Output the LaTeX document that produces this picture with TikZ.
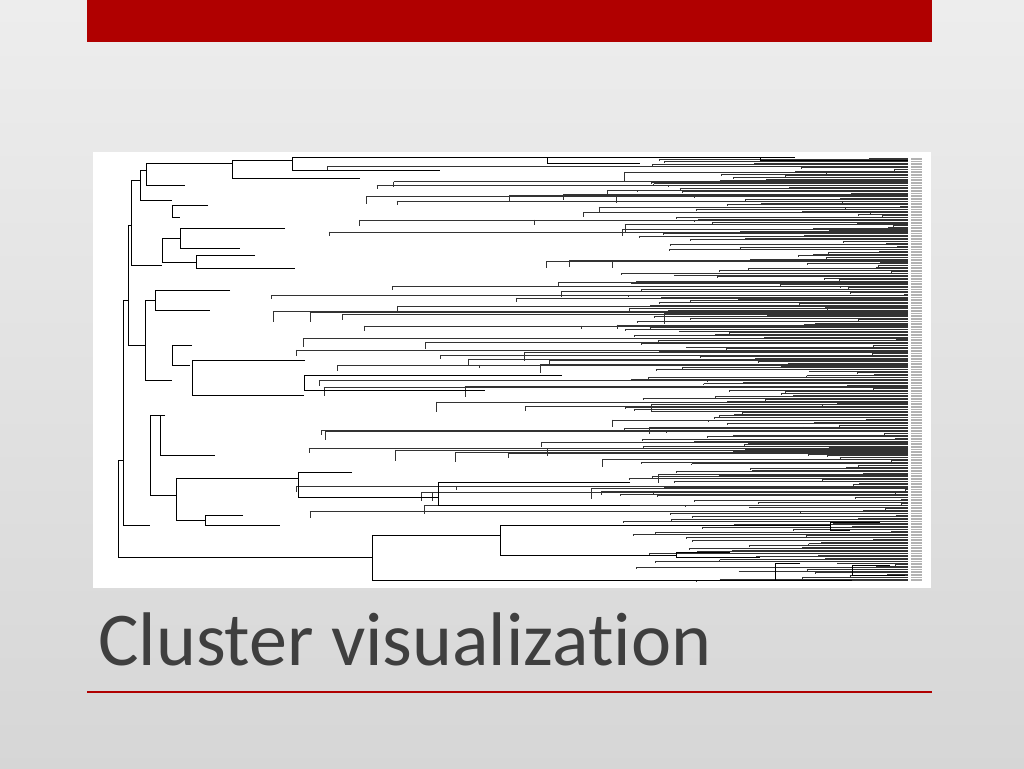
\documentclass[tikz,border=0pt]{standalone}
\usepackage{fontspec}
\setmainfont[Ligatures=NoCommon]{Carlito}
\usetikzlibrary{calc}
\definecolor{barred}{HTML}{B00000}
\definecolor{titlegray}{HTML}{3F3F3F}
\begin{document}
\begin{tikzpicture}[x=1pt,y=-1pt]
	\tikzset{br/.style={line width=0.5pt,black},leaf/.style={line width=0.25pt,black!80}}
	% slide background
	\shade[top color=white!93!black,bottom color=white!84!black] (0,0) rectangle (1024,768);
	\useasboundingbox (0,0) rectangle (1024,768);
	\fill[barred] (87,0) rectangle (932,42);% top bar
	\fill[white] (93,152) rectangle (931,588);% panel
	% dense leaves
	\pgfmathsetseed{7}
	\foreach \i in {0,...,264} {
		\pgfmathsetmacro\yy{158+1.6*\i}
		\pgfmathsetmacro\xx{620+rnd*285}
		\draw[leaf] (\xx,\yy) -- (908,\yy);
		\draw[leaf] (\xx,\yy) -- ++(0,1.6);
		\draw[gray!60,line width=0.3pt] (911,\yy) -- (922,\yy);% labels
	}
	% middle level
	\foreach \i in {0,...,70} {
		\pgfmathsetmacro\yy{160+rnd*360}
		\pgfmathsetmacro\xx{250+rnd*420}
		\pgfmathsetmacro\hh{3+rnd*8}
		\draw[leaf] (\xx,\yy) -- (908,\yy);
		\draw[leaf] (\xx,\yy) -- ++(0,\hh);
	}
	% main clades: x/top/bottom/top end/bottom end
	\foreach \x/\ya/\yb/\xa/\xb in {118/460/557/123/372, 123/300/525/128/150,
		128/225/345/131/145, 131/180/265/140/162, 140/170/200/146/172,
		146/163/185/232/185, 232/160/178/292/360, 292/157/170/547/440,
		172/205/217/208/180, 162/238/262/180/196, 180/228/248/285/240,
		196/255/268/255/295, 145/300/380/155/172, 155/290/310/230/210,
		172/345/365/192/190, 192/360/395/305/304, 304/375/390/562/485,
		150/415/495/160/176, 160/415/455/165/215, 176/478/520/298/205,
		298/472/497/352/438, 438/482/505/630/630, 205/515/525/243/280,
		372/535/580/500/775, 500/525/555/830/676, 775/563/580/800/852,
		547/157/163/760/640, 760/157/160/795/908, 830/522/530/880/850,
		676/552/557/730/760, 852/565/575/890/905} {
		\draw[br] (\xa,\ya) -- (\x,\ya) -- (\x,\yb) -- (\xb,\yb);
	}
	% title
	\node[anchor=base west,inner sep=0pt,text=titlegray,font=\fontsize{76}{84}\selectfont] (title) at (98,665) {Cluster visualization};
	\draw[barred,line width=2.2pt] (87,692) -- (932,692);
\end{tikzpicture}
\end{document}
